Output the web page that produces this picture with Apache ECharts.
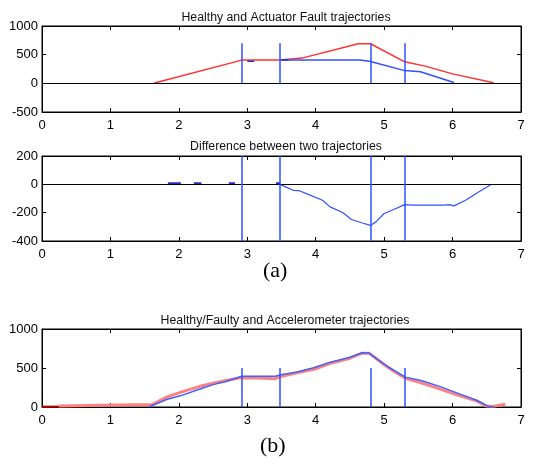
<!DOCTYPE html>
<html>
<head>
<meta charset="utf-8">
<script src="https://cdn.jsdelivr.net/npm/echarts@6/dist/echarts.min.js"></script>
<style>
  html, body { margin: 0; padding: 0; background: #fff; }
  #chart { width: 535px; height: 465px; }
</style>
</head>
<body>
<div id="chart"></div>
<script>
// instants where the vertical event lines are drawn
var eventTimes = [2.92, 3.48, 4.81, 5.30];

// (a) top: healthy vs actuator fault
var healthyA = [[1.63, 0], [2.92, 405], [3.48, 405], [3.80, 440], [4.62, 690], [4.80, 690],
    [5.30, 375], [5.60, 300], [6.00, 165], [6.60, 10]];
var faultA = [[3.48, 405], [4.65, 405], [4.80, 380], [5.30, 222], [5.53, 203], [6.02, 15]];
var faultBitsA = [[3.00, 385], [3.10, 385], [3.12, '-'], [3.50, 410], [3.60, 410]];

// (a) bottom: difference
var diffLine = [[3.48, 0], [3.67, -42], [3.76, -45], [3.90, -73], [4.10, -112], [4.21, -159],
    [4.40, -201], [4.52, -248], [4.67, -271], [4.80, -290], [4.88, -265], [5.00, -206],
    [5.14, -178], [5.30, -143], [5.43, -147], [5.88, -147], [5.95, -143], [6.02, -152],
    [6.19, -112], [6.38, -54], [6.57, 0]];
var diffDashes = [[1.84, 2.03], [2.22, 2.33], [2.73, 2.82], [3.42, 3.48]];
var dashLevel = 8;

// (b): healthy/faulty vs accelerometer
var accelRed = [[0.25, 13], [1.35, 30], [1.61, 30], [1.83, 130], [2.02, 187], [2.31, 265],
    [2.50, 304], [2.69, 339], [2.88, 372], [3.17, 372], [3.40, 362], [3.49, 390], [3.73, 439],
    [4.01, 491], [4.20, 557], [4.49, 622], [4.68, 690], [4.78, 690], [4.87, 630], [5.01, 535],
    [5.16, 448], [5.31, 368], [5.54, 309], [5.82, 230], [6.11, 143], [6.35, 78], [6.49, 13],
    [6.59, 8], [6.77, 35]];
var accelRedStart = [[0, 5], [0.25, 5]];
var accelBlue = [[1.56, 0], [1.83, 100], [2.02, 143], [2.31, 230], [2.50, 287], [2.69, 326],
    [2.92, 395], [3.41, 395], [3.49, 413], [3.73, 448], [3.97, 504], [4.20, 570], [4.49, 635],
    [4.68, 696], [4.78, 691], [4.92, 600], [5.06, 513], [5.31, 383], [5.54, 339], [5.82, 261],
    [6.11, 165], [6.35, 87], [6.54, 2], [6.60, 2]];

var panelTitles = ['Healthy and Actuator Fault trajectories', 'Difference between two trajectories',
    'Healthy/Faulty and Accelerometer trajectories'];
var yRanges = [[-500, 1000, 500], [-400, 200, 200], [0, 1000, 500]];
var eventTops = [700, 200, 500];
var eventBottoms = [0, -400, 0];

var BLUE = '#3050ff';
var RED = '#ff3030';

var grids = [
    { left: 42, right: 14, top: 26, height: 86 },
    { left: 42, right: 14, top: 156, height: 85 },
    { left: 42, right: 14, top: 329, height: 78 }
];

var xAxes = [], yAxes = [];
grids.forEach(function (g, i) {
    g.show = true;
    g.borderColor = '#000';
    g.borderWidth = 1;
    var common = {
        type: 'value', gridIndex: i, min: 0, max: 7, interval: 1,
        axisLine: { onZero: false, lineStyle: { color: '#000', width: 1 } },
        axisTick: { inside: true, length: 4, lineStyle: { color: '#000' } },
        splitLine: { show: false }
    };
    xAxes.push(Object.assign({}, common, {
        position: 'bottom',
        axisLabel: { color: '#000', fontSize: 13, margin: 7, fontFamily: 'Liberation Sans' }
    }));
    xAxes.push(Object.assign({}, common, { position: 'top', axisLabel: { show: false } }));
    var yc = {
        type: 'value', gridIndex: i, min: yRanges[i][0], max: yRanges[i][1], interval: yRanges[i][2],
        axisLine: { show: true, onZero: false, lineStyle: { color: '#000', width: 1 } },
        axisTick: { show: true, inside: true, length: 4, lineStyle: { color: '#000' } },
        splitLine: { show: false }
    };
    yAxes.push(Object.assign({}, yc, {
        position: 'left',
        axisLabel: {
            color: '#000', fontSize: 13, margin: 4, fontFamily: 'Liberation Sans',
            formatter: function (v) { return String(v); }
        }
    }));
    yAxes.push(Object.assign({}, yc, { position: 'right', axisLabel: { show: false } }));
});

function eventLines(i) {
    return {
        symbol: 'none', silent: true, animation: false, label: { show: false },
        lineStyle: { color: BLUE, width: 1.5, type: 'solid' },
        data: eventTimes.map(function (t) {
            return [{ coord: [t, eventBottoms[i]] }, { coord: [t, eventTops[i]] }];
        })
    };
}

function zeroLine() {
    return {
        symbol: 'none', silent: true, animation: false, label: { show: false },
        lineStyle: { color: '#000', width: 1, type: 'solid' },
        data: [{ yAxis: 0 }]
    };
}

function line(i, data, color, width, extra) {
    return Object.assign({
        type: 'line', xAxisIndex: i * 2, yAxisIndex: i * 2, data: data,
        showSymbol: false, symbol: 'none', animation: false, connectNulls: false,
        lineStyle: { color: color, width: width }
    }, extra || {});
}

var dashData = [];
diffDashes.forEach(function (d) {
    dashData.push([d[0], dashLevel], [d[1], dashLevel], [d[1] + 0.01, '-']);
});

var option = {
    backgroundColor: '#fff',
    animation: false,
    title: [
        { text: panelTitles[0], left: 281, top: 7 },
        { text: panelTitles[1], left: 281, top: 136 },
        { text: panelTitles[2], left: 280, top: 310 }
    ].map(function (t) {
        t.textAlign = 'center';
        t.textStyle = { fontSize: 12.3, fontWeight: 'normal', color: '#111', fontFamily: 'Liberation Sans' };
        return t;
    }),
    grid: grids,
    xAxis: xAxes,
    yAxis: yAxes,
    graphic: [
        { type: 'text', left: 263, top: 260, style: { text: '(a)', font: '22px "Liberation Serif"', fill: '#000' } },
        { type: 'text', left: 260, top: 435, style: { text: '(b)', font: '22px "Liberation Serif"', fill: '#000' } }
    ],
    series: [
        line(0, healthyA, RED, 1.5, { markLine: zeroLine() }),
        line(0, faultA, BLUE, 1.5, { markLine: eventLines(0) }),
        line(0, faultBitsA, '#2030c0', 1.5),
        line(1, diffLine, BLUE, 1.2, { markLine: zeroLine() }),
        line(1, dashData, '#2030c0', 2, { markLine: eventLines(1) }),
        line(2, accelRedStart, '#c00000', 2),
        line(2, accelRed, '#ff8080', 3),
        line(2, accelBlue, '#4060ff', 1.5, { markLine: eventLines(2) })
    ]
};

var chart = echarts.init(document.getElementById('chart'));
chart.setOption(option);
</script>
</body>
</html>
